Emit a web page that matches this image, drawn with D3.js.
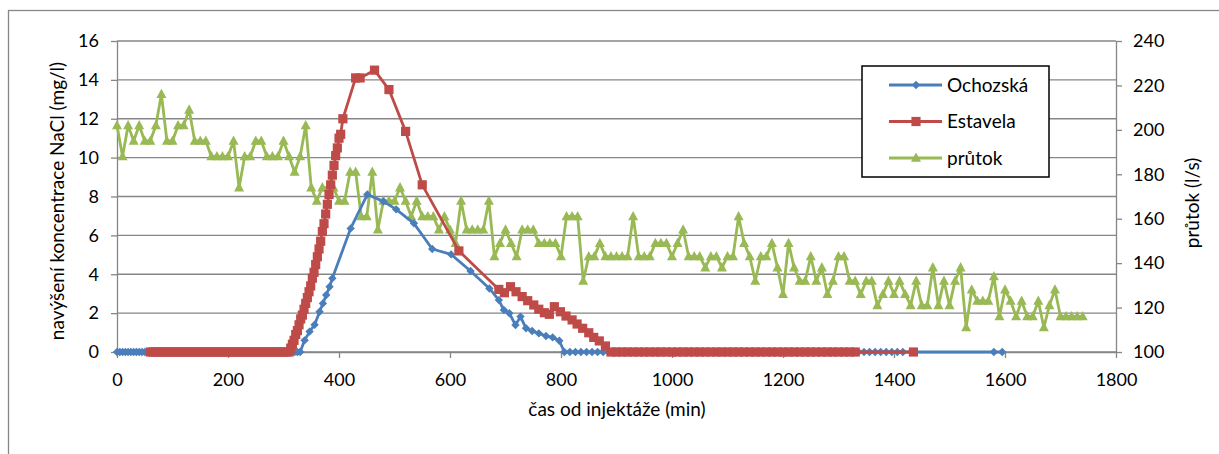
<!DOCTYPE html>
<html>
<head>
<meta charset="utf-8">
<script src="https://cdn.jsdelivr.net/npm/d3@7"></script>
<style>
  body { margin: 0; background: #fff; }
  svg { display: block; font-family: Lato, 'Open Sans', sans-serif; }
</style>
</head>
<body>
<div id="chart"></div>
<script>
// [time (min), NaCl increase (mg/l)]
var ochozska = [
  [0,0],[5,0],[10,0],[15,0],[20,0],[25,0],[30,0],[35,0],[40,0],[45,0],[50,0],[55,0],[60,0],
  [65,0],[70,0],[75,0],[80,0],[85,0],[90,0],[95,0],[100,0],[105,0],[110,0],[115,0],[120,0],
  [125,0],[130,0],[135,0],[140,0],[145,0],[150,0],[155,0],[160,0],[165,0],[170,0],[175,0],
  [180,0],[185,0],[190,0],[195,0],[200,0],[205,0],[210,0],[215,0],[220,0],[225,0],[230,0],
  [235,0],[240,0],[245,0],[250,0],[255,0],[260,0],[265,0],[270,0],[275,0],[280,0],[285,0],
  [290,0],[295,0],[300,0],[305,0],[310,0],[315,0],[320,0],[325,0],[330,0],
  [338,0.6],[347,1.05],[356,1.4],[365,2.07],[371,2.5],[377,2.93],[383,3.36],[388,3.79],
  [421,6.36],[451,8.1],[480,7.75],[503,7.34],[535,6.62],[568,5.3],[602,5.02],[637,4.17],
  [671,3.27],[688,2.67],[697,2.16],[707,1.99],[718,1.39],[727,1.82],[737,1.22],[748,1.08],
  [760,0.96],[773,0.82],[785,0.75],[797,0.58],
  [806,0],[816,0],[826,0],[836,0],[846,0],[856,0],[866,0],[876,0],[886,0],[896,0],
  [906,0],[916,0],[926,0],[936,0],[946,0],[956,0],[966,0],[976,0],[986,0],[996,0],
  [1006,0],[1016,0],[1026,0],[1036,0],[1046,0],[1056,0],[1066,0],[1076,0],[1086,0],[1096,0],
  [1106,0],[1116,0],[1126,0],[1136,0],[1146,0],[1156,0],[1166,0],[1176,0],[1186,0],[1196,0],
  [1206,0],[1216,0],[1226,0],[1236,0],[1246,0],[1256,0],[1266,0],[1276,0],[1286,0],[1296,0],
  [1306,0],[1316,0],[1326,0],[1336,0],[1346,0],[1356,0],[1366,0],[1376,0],[1386,0],[1396,0],
  [1406,0],[1416,0],[1580,0],[1595,0]
]

var estavela = [
  [60,0],[65,0],[70,0],[75,0],[80,0],[85,0],[90,0],[95,0],[100,0],[105,0],[110,0],[115,0],
  [120,0],[125,0],[130,0],[135,0],[140,0],[145,0],[150,0],[155,0],[160,0],[165,0],[170,0],
  [175,0],[180,0],[185,0],[190,0],[195,0],[200,0],[205,0],[210,0],[215,0],[220,0],[225,0],
  [230,0],[235,0],[240,0],[245,0],[250,0],[255,0],[260,0],[265,0],[270,0],[275,0],[280,0],
  [285,0],[290,0],[295,0],[300,0],[305,0],[310,0],
  [313,0.2],[316,0.4],[319,0.6],[322,0.9],[325,1.1],[328,1.4],[331,1.7],[334,1.9],[337,2.2],
  [340,2.5],[343,2.8],[346,3.1],[349,3.4],[352,3.8],[355,4.1],[358,4.5],[361,4.9],[364,5.3],
  [367,5.7],[370,6.2],[373,6.6],[376,7.1],[379,7.6],[382,8.1],[385,8.6],[388,9.1],[391,9.6],
  [394,10.1],[397,10.5],[400,11.0],[403,11.2],
  [407,12.0],[430,14.1],[438,14.1],[464,14.5],[490,13.5],[520,11.35],[550,8.6],[616,5.2],
  [688,3.22],[698,3.05],[709,3.36],[719,3.1],[730,2.85],[740,2.64],[751,2.42],[760,2.2],
  [770,2.02],[779,1.94],[788,2.33],[799,2.07],[809,1.85],[820,1.65],[829,1.44],[839,1.22],
  [850,0.99],[859,0.75],[869,0.57],[880,0.31],
  [890,0],[900,0],[910,0],[920,0],[930,0],[940,0],[950,0],[960,0],[970,0],[980,0],
  [990,0],[1000,0],[1010,0],[1020,0],[1030,0],[1040,0],[1050,0],[1060,0],[1070,0],[1080,0],
  [1090,0],[1100,0],[1110,0],[1120,0],[1130,0],[1140,0],[1150,0],[1160,0],[1170,0],[1180,0],
  [1190,0],[1200,0],[1210,0],[1220,0],[1230,0],[1240,0],[1250,0],[1260,0],[1270,0],[1280,0],
  [1290,0],[1300,0],[1310,0],[1320,0],[1330,0],[1435,0]
]

// [time (min), flow (l/s)]
var prutok = [
  [0,202],[10,188],[20,202],[30,195],[40,202],[50,195],[60,195],[70,202],[80,216],[90,195],
  [100,195],[110,202],[120,202],[130,209],[140,195],[150,195],[160,195],[170,188],[180,188],[190,188],
  [200,188],[210,195],[220,174],[230,188],[240,188],[250,195],[260,195],[270,188],[280,188],[290,188],
  [300,195],[310,188],[320,181],[330,188],[340,202],[350,174],[360,168],[370,174],[380,174],[390,174],
  [400,168],[410,168],[420,181],[430,181],[440,161],[450,161],[460,181],[470,155],[480,168],[490,168],
  [500,168],[510,174],[520,168],[530,161],[540,168],[550,161],[560,161],[570,161],[580,155],[590,161],
  [600,155],[610,149],[620,168],[630,155],[640,155],[650,155],[660,155],[670,168],[680,143],[690,149],
  [700,155],[710,149],[720,143],[730,155],[740,155],[750,155],[760,149],[770,149],[780,149],[790,149],
  [800,143],[810,161],[820,161],[830,161],[840,132],[850,143],[860,143],[870,149],[880,143],[890,143],
  [900,143],[910,143],[920,143],[930,161],[940,143],[950,143],[960,143],[970,149],[980,149],[990,149],
  [1000,143],[1010,149],[1020,155],[1030,143],[1040,143],[1050,143],[1060,138],[1070,143],[1080,143],[1090,138],
  [1100,143],[1110,143],[1120,161],[1130,149],[1140,143],[1150,132],[1160,143],[1170,143],[1180,149],[1190,138],
  [1200,126],[1210,149],[1220,138],[1230,132],[1240,132],[1250,143],[1260,132],[1270,138],[1280,126],[1290,132],
  [1300,143],[1310,143],[1320,132],[1330,132],[1340,126],[1350,132],[1360,132],[1370,121],[1380,126],[1390,132],
  [1400,126],[1410,132],[1420,126],[1430,121],[1440,132],[1450,121],[1460,121],[1470,138],[1480,121],[1490,132],
  [1500,121],[1510,132],[1520,138],[1530,111],[1540,128],[1550,123],[1560,123],[1570,123],[1580,134],[1590,116],
  [1600,128],[1610,123],[1620,116],[1630,123],[1640,116],[1650,116],[1660,123],[1670,111],[1680,121],[1690,128],
  [1700,116],[1710,116],[1720,116],[1730,116],[1740,116]
]

var xTicks = [0, 200, 400, 600, 800, 1000, 1200, 1400, 1600, 1800]
var yTicks = [0, 2, 4, 6, 8, 10, 12, 14, 16]
var y2Ticks = [100, 120, 140, 160, 180, 200, 220, 240]
var seriesNames = ['Ochozská', 'Estavela', 'průtok']

var width = 1219, height = 454
var plotL = 117, plotR = 1116, plotT = 41, plotB = 352
var gridColor = '#868686'
var colors = ['#4a7ebb', '#be4b48', '#98b954']

var svg = d3.select('#chart').append('svg')
  .attr('width', width).attr('height', height)

// outer chart frame
svg.append('rect')
  .attr('x', 8.5).attr('y', 10.5).attr('width', 1300).attr('height', 600)
  .attr('fill', 'none').attr('stroke', gridColor).attr('stroke-width', 1.3)

var x = d3.scaleLinear().domain([0, 1800]).range([plotL, plotR])
var y = d3.scaleLinear().domain([0, 16]).range([plotB, plotT])
var y2 = d3.scaleLinear().domain([100, 240]).range([plotB, plotT])

// gridlines
svg.append('g').selectAll('line').data(yTicks).join('line')
  .attr('x1', plotL).attr('x2', plotR)
  .attr('y1', d => y(d)).attr('y2', d => y(d))
  .attr('stroke', gridColor).attr('stroke-width', 1.3)

function styleAxis(g) {
  g.select('.domain').attr('stroke', gridColor).attr('stroke-width', 1.3)
  g.selectAll('.tick line').attr('stroke', gridColor).attr('stroke-width', 1.3)
  g.selectAll('.tick text').attr('fill', '#000')
    .style('font-size', '18px').style('font-family', 'Lato, sans-serif')
}

svg.append('g').attr('transform', `translate(0,${plotB})`)
  .call(d3.axisBottom(x).tickValues(xTicks).tickFormat(d3.format('d'))
    .tickSize(6).tickSizeOuter(0).tickPadding(15))
  .call(styleAxis)

svg.append('g').attr('transform', `translate(${plotL},0)`)
  .call(d3.axisLeft(y).tickValues(yTicks).tickSize(6).tickSizeOuter(0).tickPadding(12))
  .call(styleAxis)

svg.append('g').attr('transform', `translate(${plotR},0)`)
  .call(d3.axisRight(y2).tickValues(y2Ticks).tickSize(6).tickSizeOuter(0).tickPadding(11))
  .call(styleAxis)

// axis titles
svg.append('text').text('čas od injektáže (min)')
  .attr('x', 617).attr('y', 416).attr('text-anchor', 'middle')
  .style('font-size', '19px')

svg.append('text').text('navýšení koncentrace NaCl (mg/l)')
  .attr('transform', 'translate(64,201) rotate(-90)').attr('text-anchor', 'middle')
  .style('font-size', '19px')

svg.append('text').text('průtok (l/s)')
  .attr('transform', 'translate(1199,203) rotate(-90)').attr('text-anchor', 'middle')
  .style('font-size', '19px')

// marker shapes
var markers = [
  'M0,-4.2L4.2,0L0,4.2L-4.2,0Z',
  'M-4.6,-4.6H4.6V4.6H-4.6Z',
  'M0,-5.5L5,3.8L-5,3.8Z'
]

function drawSeries(data, yScale, i) {
  var line = d3.line().x(d => x(d[0])).y(d => yScale(d[1]))
  var g = svg.append('g')
  g.append('path').datum(data)
    .attr('d', line).attr('fill', 'none')
    .attr('stroke', colors[i]).attr('stroke-width', 2.8).attr('stroke-linejoin', 'round')
  g.selectAll('path.mk').data(data).join('path').attr('class', 'mk')
    .attr('d', markers[i])
    .attr('transform', d => `translate(${x(d[0])},${yScale(d[1])})`)
    .attr('fill', colors[i])
}

drawSeries(prutok, y2, 2)
drawSeries(ochozska, y, 0)
drawSeries(estavela, y, 1)

// legend
var lg = svg.append('g')
lg.append('rect')
  .attr('x', 862).attr('y', 66).attr('width', 187).attr('height', 111)
  .attr('fill', '#fff').attr('stroke', '#000').attr('stroke-width', 1.5)

seriesNames.forEach((name, i) => {
  var cy = 85 + i * 36.5
  lg.append('line').attr('x1', 889).attr('x2', 942).attr('y1', cy).attr('y2', cy)
    .attr('stroke', colors[i]).attr('stroke-width', 2.8)
  lg.append('path').attr('d', markers[i]).attr('fill', colors[i])
    .attr('transform', `translate(916,${cy})`)
  lg.append('text').text(name).attr('x', 947).attr('y', cy).attr('dy', '0.35em')
    .style('font-size', '19px')
})
</script>
</body>
</html>
